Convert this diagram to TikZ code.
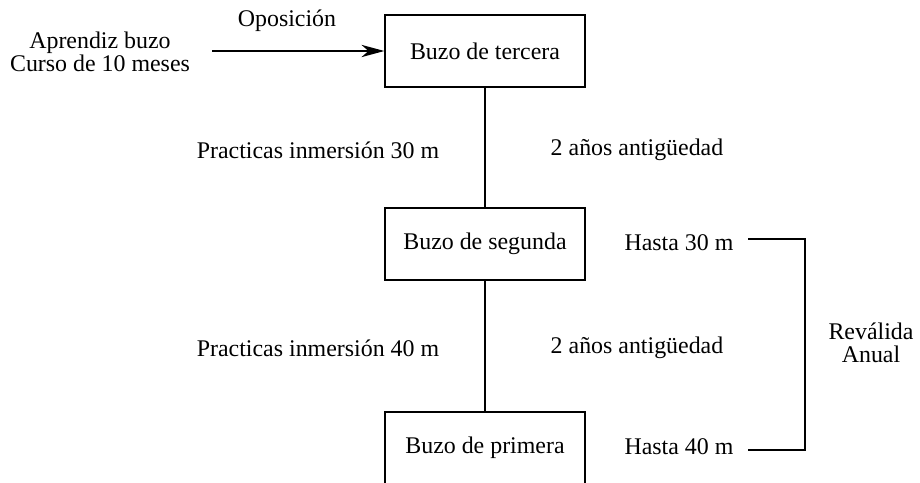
\documentclass[tikz,border=0pt]{standalone}
\usepackage{fontspec}
\setmainfont{Liberation Serif}
\usetikzlibrary{arrows.meta}

\tikzset{
  rango/.style={draw, thick, minimum width=4cm, minimum height=1.44cm, inner sep=0pt},
  etiqueta/.style={inner sep=1pt, align=center},
}

\begin{document}
\begin{tikzpicture}[x=0.02cm, y=-0.02cm, font=\fontsize{13.6}{13.2}\selectfont]
    \useasboundingbox (0,0) rectangle (920,483);
    \clip (0,0) rectangle (920,483);

    % ranks
    \node[rango] (tercera) at (485,51) {Buzo de tercera};
    \node[rango] (segunda) at (485,244) {Buzo de segunda};
    \node[rango] (primera) at (485,448) {Buzo de primera};

    % entry
    \node[etiqueta] (aprendiz) at (100,52) {Aprendiz buzo\\Curso de 10 meses};
    \coordinate (inicio) at (212,51);
    \draw[thick, -{Stealth[length=13pt, width=7pt, inset=4pt]}] (inicio) -- (tercera.west);
    \node[etiqueta] (oposicion) at (287,21) {Oposición};

    \draw[thick] (tercera.south) -- (segunda.north);
    \draw[thick] (segunda.south) -- (primera.north);

    % requirements
    \foreach \y/\m [count=\i] in {150/30, 348/40} {
      \node[etiqueta] (practicas\i) at (318,\y) {Practicas inmersión \m\ m};
      \node[etiqueta] (antiguedad\i) at (637,\y) {2 años antigüedad};
    }

    % depth limits
    \node[etiqueta] (hasta30) at (679,243) {Hasta 30 m};
    \node[etiqueta] (hasta40) at (679,447) {Hasta 40 m};
    \coordinate (brA) at (748,239);
    \coordinate (brB) at (805,239);
    \coordinate (brC) at (805,450);
    \coordinate (brD) at (748,450);
    \draw[thick] (brA) -- (brB) -- (brC) -- (brD);
    \node[etiqueta] (revalida) at (871,343) {Reválida\\Anual};
  \end{tikzpicture}
\end{document}
